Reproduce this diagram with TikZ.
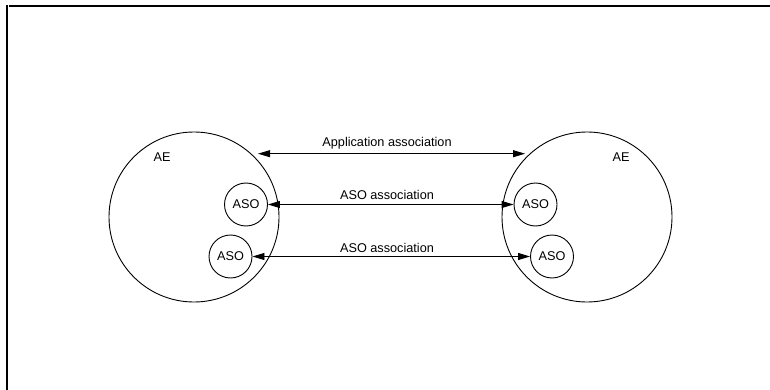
\documentclass[tikz,border=0pt]{standalone}
\usepackage{fontspec}
\setmainfont{Liberation Sans}
\usetikzlibrary{arrows.meta}
\begin{document}
\begin{tikzpicture}[x=1pt,y=-1pt,
  txt/.style={font=\fontsize{12.7}{14}\selectfont, inner sep=0pt},
  bigcirc/.style={draw, circle, line width=0.9pt, minimum size=170pt, inner sep=0pt},
  asocirc/.style={draw, circle, line width=0.9pt, minimum size=43pt, inner sep=0pt, font=\fontsize{12.7}{14}\selectfont},
  assoc/.style={line width=0.9pt, {Triangle[length=12pt,width=7pt]}-{Triangle[length=12pt,width=7pt]}}]
\useasboundingbox (0,0) rectangle (770,390);
\draw[line width=2pt] (9,5.7) -- (770,5.7);
\draw[line width=2pt] (7,5) -- (7,390);
% big circles
\node[bigcirc] (AEl) at (194,217) {};
\node[bigcirc] (AEr) at (587,217) {};
\node[txt] (AEllab) at (162,157) {AE};
\node[txt] (AErlab) at (621,157) {AE};
% ASO circles
\node[asocirc] (aso1l) at (246,204.5) {ASO};
\node[asocirc] (aso2l) at (230.5,256.5) {ASO};
\node[asocirc] (aso1r) at (535.5,204.5) {ASO};
\node[asocirc] (aso2r) at (552,256.5) {ASO};
% application association
\coordinate (appl) at (258,153.7);
\coordinate (appr) at (525,153.7);
\draw[assoc] (appl) -- (appr);
\node[txt] (applab) at (387,143) {Application association};
% ASO associations
\draw[assoc] (aso1l.east) -- (aso1r.west);
\node[txt] (a1lab) at (387,195) {ASO association};
\draw[assoc] (aso2l.east) -- (aso2r.west);
\node[txt] (a2lab) at (387,248) {ASO association};
\end{tikzpicture}
\end{document}
